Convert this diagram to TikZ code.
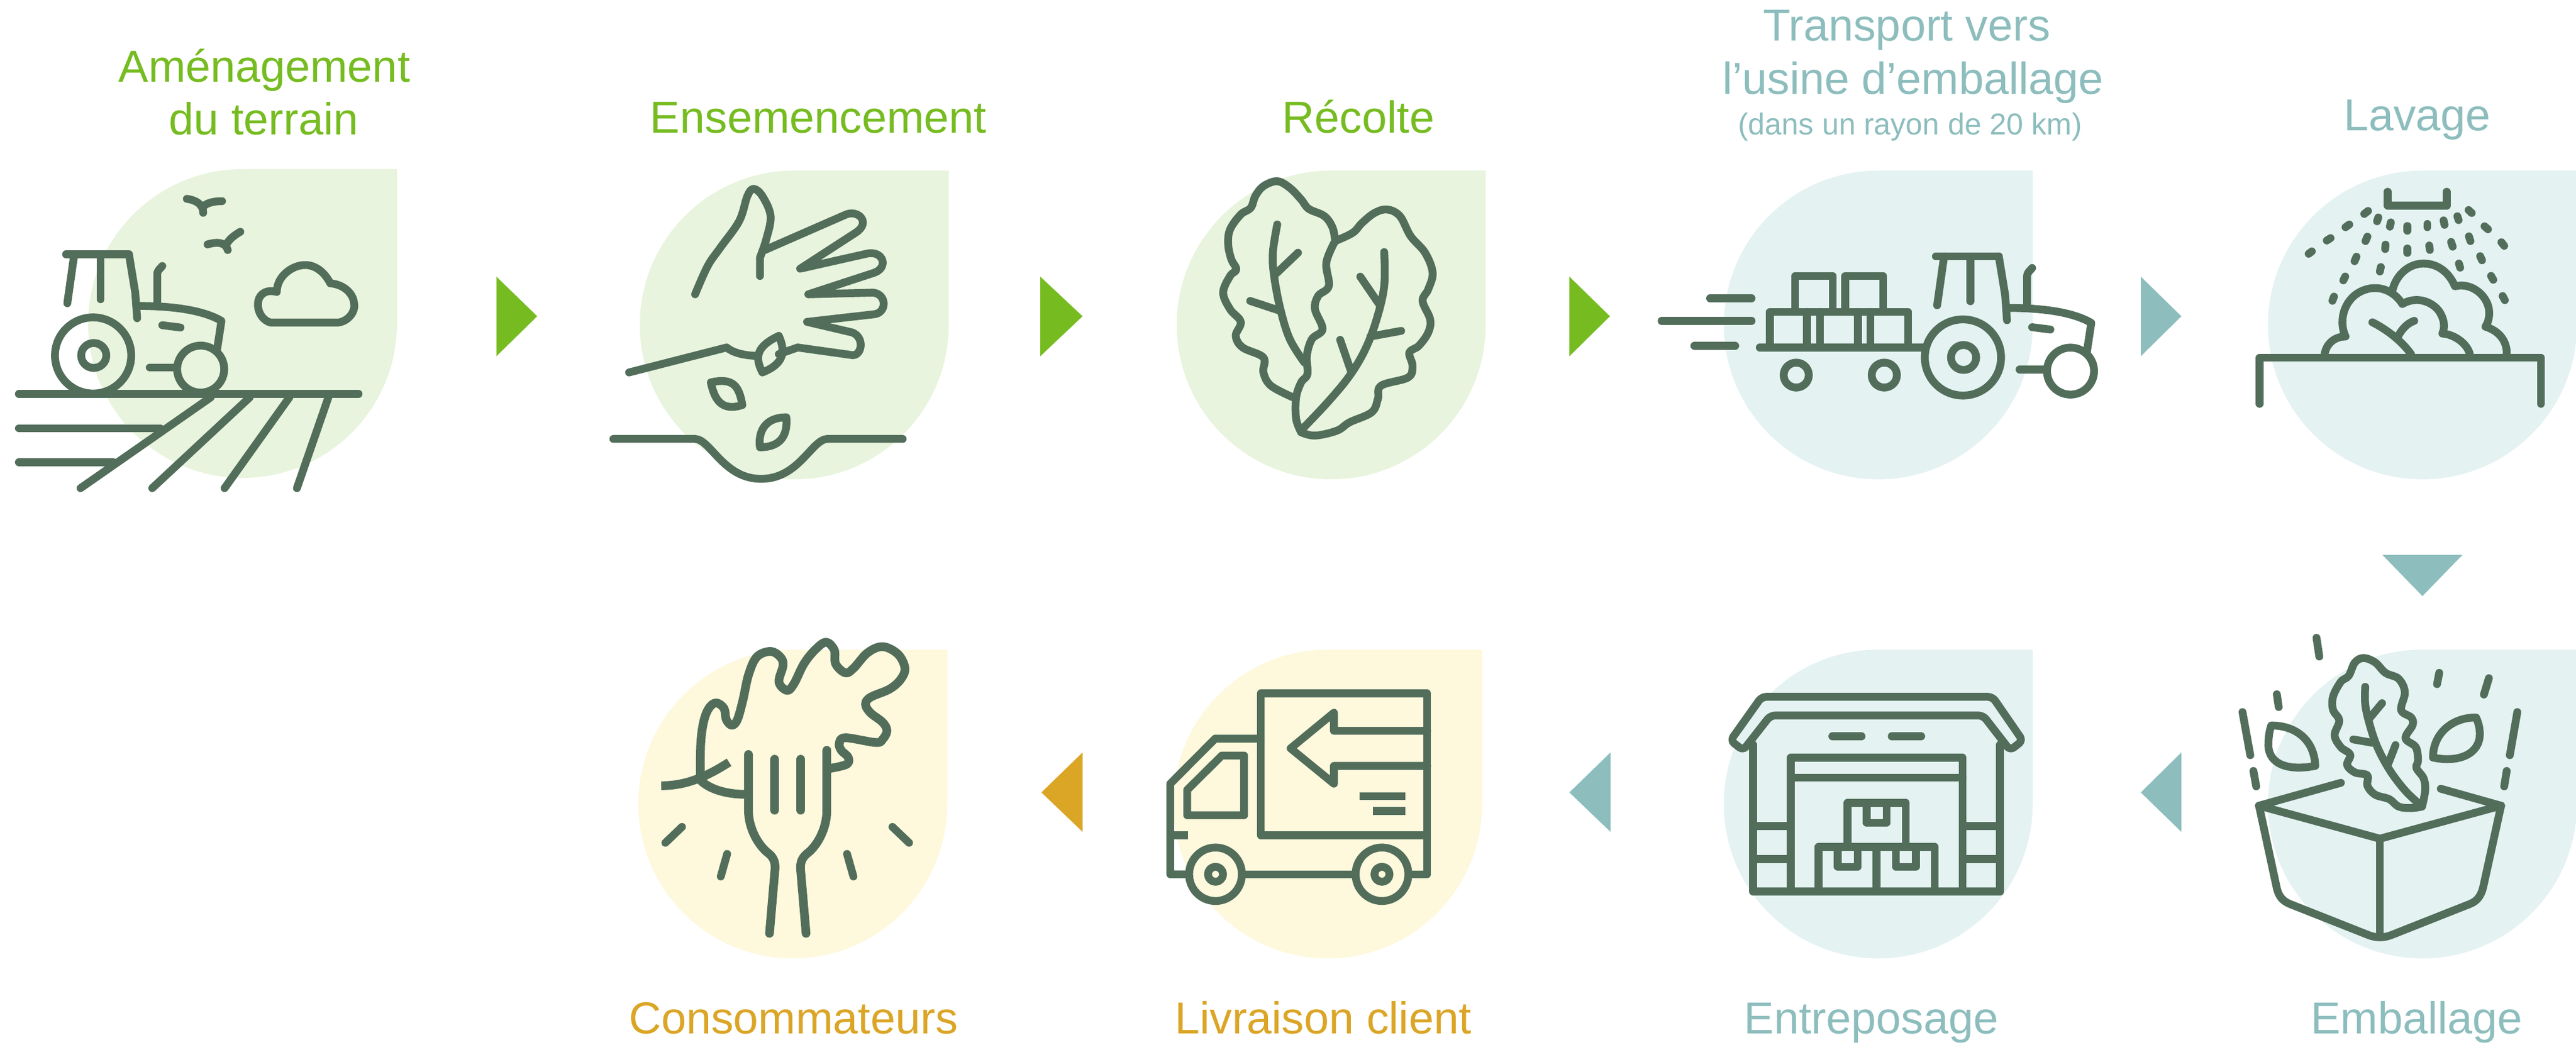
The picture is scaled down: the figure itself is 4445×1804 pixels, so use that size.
\documentclass[tikz,border=0pt]{standalone}
\usepackage{fontspec}
\setmainfont{Liberation Sans}
\definecolor{gr}{HTML}{76BC21}
\definecolor{te}{HTML}{8DBDBD}
\definecolor{am}{HTML}{DBA526}
\definecolor{lg}{HTML}{E8F4DD}
\definecolor{lt}{HTML}{E4F2F2}
\definecolor{ly}{HTML}{FEF8DC}
\definecolor{ico}{HTML}{526E5B}
\tikzset{
  ic/.style={draw=ico,line width=0.135cm,line cap=round,line join=round},
  icb/.style={draw=ico,line width=0.135cm,line cap=butt,line join=round},
  lab/.style={anchor=base,inner sep=0pt,font=\fontsize{22}{26}\selectfont},
  sublab/.style={anchor=base,inner sep=0pt,font=\fontsize{14.8}{18}\selectfont},
  zA/.style={shift={(0,0)},x=0.010842cm,y=-0.00574cm},
  zB/.style={shift={(1900,0)},x=0.010842cm,y=-0.00574cm},
  zC/.style={shift={(3600,150)},x=0.005389cm,y=-0.005102cm},
  zD/.style={shift={(3600,1000)},x=0.005389cm,y=-0.005128cm},
  zE/.style={shift={(2700,1050)},x=0.005421cm,y=-0.004809cm},
  zF/.style={shift={(1750,1050)},x=0.005421cm,y=-0.004809cm},
  zG/.style={shift={(1000,1050)},x=0.004783cm,y=-0.004809cm},
  sm/.style={smooth,tension=0.6},
}
\newcommand{\myblob}[3]{\fill[#3] (#1,#2-266.5) -- (#1+266.5,#2-266.5) -- (#1+266.5,#2) arc[start angle=0,end angle=270,radius=266.5] -- cycle;}
\newcommand{\mytractor}{%
  \draw[ic] (105,765) -- (205,765);
  \draw[ic] (118,765) -- (107,912);
  \draw[ic] (160,765) -- (160,900);
  \draw[ic] (205,765) -- (215,880) -- (218,957);
  \draw[ic] (250,915) -- (250,825) .. controls (250,812) and (255,808) .. (258,800);
  \draw[ic] (218,920) .. controls (280,920) and (325,935) .. (352,965) -- (345,1052);
  \draw[ic] (258,978) -- (287,985);
  \draw[ic] (148,1069) ellipse[x radius=60.6,y radius=114.5];
  \draw[ic] (149,1069) ellipse[x radius=20,y radius=37.5];
  \draw[ic] (319,1110) ellipse[x radius=37.4,y radius=70.6];
  \draw[ic] (238,1105) -- (280,1105);
}
\begin{document}
\begin{tikzpicture}[x=0.01cm,y=-0.01cm]
\useasboundingbox (0,0) rectangle (4445,1804);
% blobs
\myblob{418.5}{558.5}{lg}
\myblob{1370.5}{561}{lg}
\myblob{2297}{561}{lg}
\myblob{3241}{561}{lt}
\myblob{4180}{561}{lt}
\myblob{4180}{1388}{lt}
\myblob{3241}{1388}{lt}
\myblob{2291}{1388}{ly}
\myblob{1368}{1388}{ly}
% arrows
\fill[gr] (856.5,477.5) -- (927,546) -- (856.5,615) -- cycle;
\fill[gr] (1795,477.5) -- (1868,546) -- (1795,615) -- cycle;
\fill[gr] (2708,477.5) -- (2778,546) -- (2708,615) -- cycle;
\fill[te] (3694,477.5) -- (3764,546) -- (3694,615) -- cycle;
\fill[te] (4111,958) -- (4249,958) -- (4180,1029) -- cycle;
\fill[te] (3764,1299) -- (3694,1368) -- (3764,1436) -- cycle;
\fill[te] (2779,1299) -- (2708,1368) -- (2779,1436) -- cycle;
\fill[am] (1868,1299) -- (1797,1368) -- (1868,1436) -- cycle;
% labels
\node[lab,text=gr] (t1a) at (456,142) {Aménagement};
\node[lab,text=gr] (t1b) at (455,232.5) {du terrain};
\node[lab,text=gr] (t2) at (1412,230) {Ensemencement};
\node[lab,text=gr] (t3) at (2344,230) {Récolte};
\node[lab,text=te] (t4a) at (3290,71) {Transport vers};
\node[lab,text=te] (t4b) at (3301,162.5) {l’usine d’emballage};
\node[sublab,text=te] (t4c) at (3296,232.5) {(dans un rayon de 20 km)};
\node[lab,text=te] (t5) at (4171,226) {Lavage};
\node[lab,text=te] (t6) at (4170,1784.6) {Emballage};
\node[lab,text=te] (t7) at (3229,1784.6) {Entreposage};
\node[lab,text=am] (t8) at (2283,1784.6) {Livraison client};
\node[lab,text=am] (t9) at (1369,1784.6) {Consommateurs};
% icon 1
\begin{scope}[zA]
  \mytractor
  \draw[ic] (30,1185) -- (570,1185);
  \draw[ic] (30,1288) -- (255,1288);
  \draw[ic] (30,1390) -- (180,1390);
  \draw[ic] (335,1195) -- (128,1468);
  \draw[ic] (397,1195) -- (242,1468);
  \draw[ic] (460,1195) -- (357,1468);
  \draw[ic] (522,1195) -- (472,1468);
  \draw[ic] (297,598) .. controls (312,602) and (323,615) .. (323,640);
  \draw[ic] (323,622) .. controls (328,610) and (340,605) .. (353,605);
  \draw[ic] (330,735) .. controls (342,728) and (358,725) .. (362,752);
  \draw[ic] (360,735) .. controls (364,720) and (372,708) .. (382,697);
  \draw[ic] (430,970) -- (538,970) .. controls (555,965) and (565,935) .. (563,915) .. controls (562,880) and (545,855) .. (525,852) .. controls (515,815) and (500,797) .. (485,797) .. controls (465,797) and (440,830) .. (440,878) .. controls (420,868) and (410,890) .. (410,915) .. controls (410,945) and (420,965) .. (430,970);
\end{scope}
% icon 2
\begin{scope}[zA]
  \draw[ic] plot[sm] coordinates {(1105,885) (1125,800) (1145,745) (1175,665) (1188,590) (1198,568) (1212,590) (1225,650) (1218,720) (1208,775)} -- (1208,830);
  \draw[ic] (1212,755) -- (1345,645) .. controls (1365,630) and (1385,670) .. (1360,700) -- (1272,808) -- (1380,762) .. controls (1405,755) and (1412,805) .. (1390,820) -- (1285,885) -- (1388,880) .. controls (1410,885) and (1410,940) .. (1390,945) -- (1283,968) -- (1355,1000) .. controls (1375,1015) and (1370,1070) .. (1355,1068) -- (1268,1045) -- (1238,1065);
  \draw[ic] (1000,1120) -- (1155,1045) .. controls (1165,1060) and (1180,1068) .. (1200,1070);
  \draw[ic] (1212,1120) .. controls (1198,1070) and (1205,1040) .. (1238,1010) .. controls (1250,1060) and (1245,1095) .. (1212,1120) -- cycle;
  \draw[ic] (1130,1150) .. controls (1135,1195) and (1145,1240) .. (1180,1218) .. controls (1175,1160) and (1165,1135) .. (1130,1150) -- cycle;
  \draw[ic] (1250,1255) .. controls (1215,1255) and (1205,1300) .. (1208,1345) .. controls (1245,1345) and (1252,1300) .. (1250,1255) -- cycle;
  \draw[ic] (975,1320) -- (1105,1320) .. controls (1130,1322) and (1150,1440) .. (1210,1440) .. controls (1270,1440) and (1290,1322) .. (1315,1320) -- (1435,1320);
\end{scope}
% icon 3
\begin{scope}[zB]
  \draw[ic] plot[sm] coordinates {(372,725) (368,685) (355,650) (330,628) (318,600) (300,565) (280,545) (258,560) (245,590) (238,625) (222,645) (205,690) (202,735) (207,780) (215,810) (205,830) (194,880) (205,930) (222,968) (214,1010) (225,1045) (258,1075) (258,1120) (270,1160) (305,1195)};
  \draw[ic] plot[sm] coordinates {(372,725) (400,700) (415,670) (435,640) (455,630) (475,650) (492,710) (515,760) (527,820) (520,870) (511,905) (523,960) (520,1000) (505,1040) (490,1060) (495,1100) (488,1135) (445,1160) (440,1200) (430,1240) (395,1270) (375,1295) (340,1310) (318,1300)};
  \draw[ic] plot[sm] coordinates {(372,725) (358,790) (362,860) (345,890) (340,930) (352,990) (335,1020) (327,1070) (328,1125) (318,1150) (310,1195) (310,1260) (318,1300)};
  \draw[ic] plot[sm] coordinates {(280,675) (273,760) (275,830) (285,930) (300,1020) (323,1090)};
  \draw[ic] (313,760) -- (277,825);
  \draw[ic] (237,905) -- (285,935);
  \draw[ic] plot[sm] coordinates {(450,758) (450,860) (438,960) (420,1050) (395,1130) (360,1210) (320,1290)};
  \draw[ic] (412,832) -- (442,915);
  \draw[ic] (477,995) -- (428,1012);
  \draw[ic] (380,1022) -- (397,1115);
\end{scope}
% icon 4
\begin{scope}[zB]
  \draw[ic] (968,897) -- (1034,897);
  \draw[ic] (891,965) -- (1034,965);
  \draw[ic] (943,1040) -- (1008,1040);
  \draw[ic] (1047,1045) -- (1310,1045);
  \draw[ic] (1063,1045) -- (1063,938) -- (1283,938) -- (1283,1045);
  \draw[ic] (1122,938) -- (1122,1045);
  \draw[ic] (1143,938) -- (1143,1045);
  \draw[ic] (1203,938) -- (1203,1045);
  \draw[ic] (1223,938) -- (1223,1045);
  \draw[ic] (1103,938) -- (1103,830) -- (1163,830) -- (1163,938);
  \draw[ic] (1183,938) -- (1183,830) -- (1243,830) -- (1243,938);
  \draw[ic] (1105,1128) ellipse[x radius=20,y radius=37.5];
  \draw[ic] (1245,1128) ellipse[x radius=20,y radius=37.5];
  \begin{scope}[shift={(1222,6)}]
    \mytractor
  \end{scope}
\end{scope}
% icon 5
\begin{scope}[zC]
  \draw[ic] (965,355) -- (965,402) -- (1154,402) -- (1154,355);
  \draw[ic] (555,1073) -- (555,917) -- (1456,917) -- (1456,1073);
  \foreach \ax/\ay/\bx/\by in {712/565/722/557,770/520/782/512,830/475/842/466,890/430/902/420,
    931/455/935/442,972/473/975/459,1028/487/1028/471,1092/475/1092/464,1147/467/1144/452,1192/451/1188/438,
    1224/417/1234/427,1275/472/1286/482,1329/526/1338/538,
    894/522/900/507,957/549/958/534,1028/562/1028/547,1100/552/1098/537,1173/541/1168/525,1230/522/1225/506,
    859/590/865/575,823/655/829/642,788/724/793/710,940/625/943/610,
    1197/612/1193/598,1267/587/1261/573,1303/653/1296/640,1340/722/1333/708}
    {\draw[ic] (\ax,\ay) -- (\bx,\by);}
  \draw[ic] (763,905) .. controls (768,870) and (795,845) .. (830,845) .. controls (810,800) and (820,740) .. (860,705) .. controls (910,665) and (975,675) .. (1012,735) .. controls (1060,705) and (1110,730) .. (1130,760) .. controls (1145,785) and (1150,810) .. (1140,835) .. controls (1180,838) and (1220,870) .. (1228,905);
  \draw[ic] (980,690) .. controls (990,640) and (1030,598) .. (1080,598) .. controls (1130,598) and (1165,635) .. (1180,675) .. controls (1235,660) and (1290,710) .. (1290,765) .. controls (1290,785) and (1285,800) .. (1278,812) .. controls (1320,825) and (1348,860) .. (1346,905);
  \draw[ic] (916,797) .. controls (960,820) and (1010,860) .. (1040,905);
  \draw[ic] (998,845) .. controls (1010,820) and (1028,800) .. (1050,792);
\end{scope}
% icon 6
\begin{scope}[zD]
  \draw[ic] (553,762) -- (940,873) -- (1328,762);
  \draw[ic] (815,685) -- (553,762);
  \draw[ic] (1135,705) -- (1328,762);
  \draw[ic] (553,762) -- (608,1030) .. controls (615,1070) and (630,1082) .. (650,1092) -- (905,1198) .. controls (928,1207) and (952,1207) .. (975,1198) -- (1230,1092) .. controls (1252,1082) and (1265,1065) .. (1272,1030) -- (1328,762);
  \draw[ic] (940,873) -- (940,1205);
  \draw[ic] plot[sm] coordinates {(1075,765) (1040,770) (1000,765) (970,740) (925,725) (900,695) (900,660) (860,650) (835,625) (845,590) (815,565) (795,525) (810,475) (790,440) (790,395) (815,345) (840,325) (860,280) (888,265) (925,280) (958,315) (1000,335) (1020,380) (1008,440) (1040,465) (1045,490) (1022,535) (1055,565) (1062,610) (1057,635) (1080,670) (1085,710) (1075,765)};
  \draw[ic] plot[sm] coordinates {(893,362) (893,420) (905,480) (930,560) (970,640) (1020,710) (1070,760)};
  \draw[ic] (947,417) -- (905,470);
  \draw[ic] (855,539) -- (915,550);
  \draw[ic] (990,558) -- (967,620);
  \draw[icb] (592,492) .. controls (670,492) and (730,540) .. (733,628) .. controls (650,645) and (585,625) .. (583,560) .. controls (583,535) and (585,515) .. (592,492) -- cycle;
  \draw[icb] (1248,465) .. controls (1170,465) and (1110,520) .. (1110,600) .. controls (1190,618) and (1260,590) .. (1260,520) .. controls (1260,500) and (1255,482) .. (1248,465) -- cycle;
  \foreach \ax/\ay/\bx/\by in {500/447/525/592,535/645/544/697,737/197/746/260,610/387/616/430,1130/315/1123/353,1289/333/1273/388,1380/447/1356/592,1346/645/1338/697}
    {\draw[ic] (\ax,\ay) -- (\bx,\by);}
\end{scope}
% icon 7
\begin{scope}[zE]
  \draw[ic,rounded corners=0.08cm] (528,475) -- (627,318) -- (1362,318) -- (1458,475) -- (1418,510) -- (1332,385) -- (655,385) -- (568,510) -- cycle;
  \draw[ic] (600,490) -- (600,1017) -- (1386,1017) -- (1386,490);
  \draw[ic] (720,1017) -- (720,537) -- (1267,537) -- (1267,1017);
  \draw[ic] (720,608) -- (1267,608);
  \draw[ic] (600,782) -- (720,782);
  \draw[ic] (600,900) -- (720,900);
  \draw[ic] (1267,782) -- (1386,782);
  \draw[ic] (1267,900) -- (1386,900);
  \draw[ic] (852,460) -- (945,460);
  \draw[ic] (1041,460) -- (1135,460);
  \draw[ic] (900,857) -- (900,699) -- (1086,699) -- (1086,857);
  \draw[ic] (808,1017) -- (808,857) -- (1178,857) -- (1178,1017);
  \draw[ic] (993,857) -- (993,1017);
  \draw[ic] (961,699) -- (961,770) -- (1025,770) -- (1025,699);
  \draw[ic] (869,857) -- (869,928) -- (933,928) -- (933,857);
  \draw[ic] (1054,857) -- (1054,928) -- (1118,928) -- (1118,857);
\end{scope}
% icon 8
\begin{scope}[zF]
  \draw[ic] (785,306) rectangle (1315,815);
  \draw[ic] (1315,440) -- (1018,440) -- (1018,375) -- (880,503) -- (1018,630) -- (1018,566) -- (1315,566);
  \draw[ic] (785,468) -- (640,468) -- (497,630) -- (497,955) -- (550,955);
  \draw[ic] (730,955) -- (1080,955);
  \draw[ic] (1260,955) -- (1315,955) -- (1315,815);
  \draw[ic] (551,652) -- (661,529) -- (732,529) -- (732,743) -- (551,743) -- cycle;
  \draw[icb] (497,815) -- (553,815);
  \draw[icb] (1099,675) -- (1245,675);
  \draw[icb] (1143,728) -- (1245,728);
  \draw[ic] (641,955) ellipse[x radius=84,y radius=96];
  \draw[ic] (1171,955) ellipse[x radius=84,y radius=96];
  \draw[ic] (641,955) ellipse[x radius=24,y radius=27];
  \draw[ic] (1171,955) ellipse[x radius=24,y radius=27];
\end{scope}
% icon 9
\begin{scope}[zG]
  \draw[ic,line width=0.15cm] (610,525) -- (610,725) .. controls (610,790) and (645,850) .. (680,878) .. controls (700,893) and (707,910) .. (706,935) -- (686,1167);
  \draw[ic,line width=0.15cm] (893,510) -- (893,725) .. controls (893,790) and (860,850) .. (825,878) .. controls (805,893) and (797,910) .. (798,935) -- (818,1167);
  \draw[ic,line width=0.15cm] (705,542) -- (705,725);
  \draw[ic,line width=0.15cm] (799,542) -- (799,725);
  \draw[ic,line width=0.15cm] plot[sm] coordinates {(436,600) (438,480) (450,400) (470,355) (495,340) (522,360) (530,400) (550,420) (570,400) (590,330) (610,240) (640,175) (690,155) (725,175) (735,205) (720,265) (750,295) (775,270) (810,200) (850,150) (890,122) (920,150) (925,200) (960,232) (990,215) (1040,160) (1095,138) (1150,165) (1175,215) (1160,255) (1120,290) (1050,320) (1033,345) (1050,375) (1095,410) (1110,440) (1095,470) (1070,482) (960,465) (938,485) (945,510) (970,535) (965,560) (905,575)};
  \draw[icb,line width=0.15cm] (295,637) .. controls (380,637) and (450,610) .. (540,553);
  \draw[icb,line width=0.15cm] (437,618) .. controls (470,650) and (530,668) .. (600,668);
  \draw[ic] (310,842) -- (370,785);
  \draw[ic] (510,963) -- (533,882);
  \draw[ic] (1190,842) -- (1130,785);
  \draw[ic] (989,963) -- (966,882);
\end{scope}
\end{tikzpicture}
\end{document}
